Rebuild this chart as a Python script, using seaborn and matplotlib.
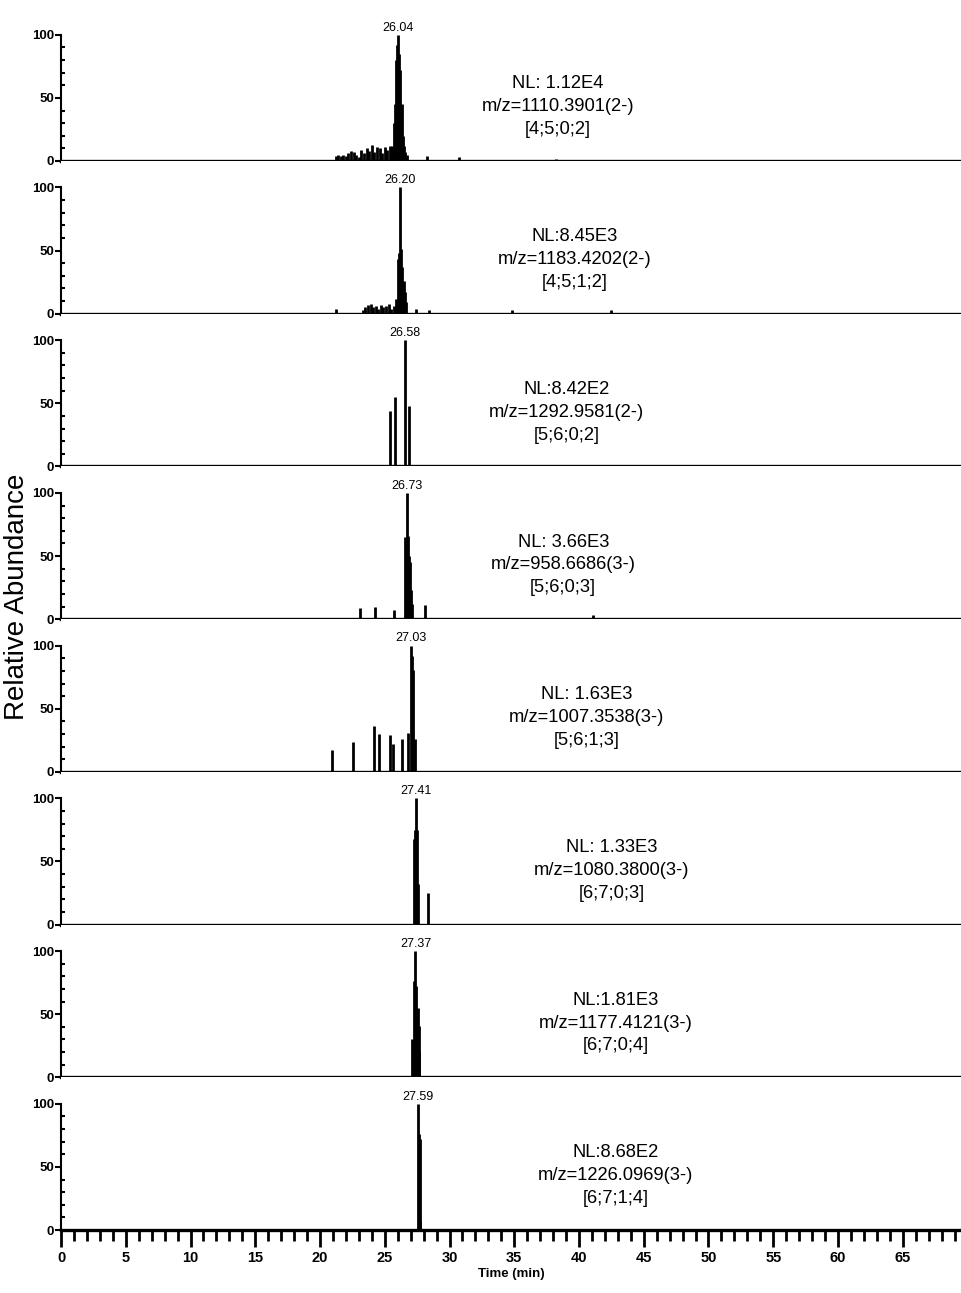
import matplotlib
matplotlib.use("Agg")
import matplotlib.pyplot as plt
import matplotlib.ticker as mticker
import seaborn as sns
import pandas as pd

# peak apex retention times printed above each trace
PEAK_LABELS = ["26.04", "26.20", "26.58", "26.73", "27.03", "27.41", "27.37", "27.59"]

# info text for each trace
NL_TEXT = ["NL: 1.12E4", "NL:8.45E3", "NL:8.42E2", "NL: 3.66E3",
           "NL: 1.63E3", "NL: 1.33E3", "NL:1.81E3", "NL:8.68E2"]
MZ_TEXT = ["m/z=1110.3901(2-)", "m/z=1183.4202(2-)", "m/z=1292.9581(2-)", "m/z=958.6686(3-)",
           "m/z=1007.3538(3-)", "m/z=1080.3800(3-)", "m/z=1177.4121(3-)", "m/z=1226.0969(3-)"]
COMP_TEXT = ["[4;5;0;2]", "[4;5;1;2]", "[5;6;0;2]", "[5;6;0;3]",
             "[5;6;1;3]", "[6;7;0;3]", "[6;7;0;4]", "[6;7;1;4]"]

# stick chromatograms (time in min, relative abundance)
t1 = [21.2, 21.4, 21.6, 21.8, 22.0, 22.2, 22.4, 22.6, 22.8, 23.0, 23.2, 23.4, 23.6, 23.8,
      24.0, 24.2, 24.4, 24.6, 24.8, 25.0, 25.2, 25.4, 25.55, 25.7, 25.8, 25.9, 25.97,
      26.04, 26.1, 26.2, 26.3, 26.4, 26.5, 26.6, 26.75, 28.3, 30.7, 38.2]
y1 = [4, 5, 4, 5, 4, 6, 8, 7, 5, 3, 9, 6, 10, 8, 13, 7, 11, 10, 6, 11, 9, 12, 12, 30, 45,
      80, 92, 100, 85, 72, 45, 20, 12, 7, 5, 4, 3, 1.5]

t2 = [21.25, 23.3, 23.5, 23.7, 23.9, 24.1, 24.3, 24.5, 24.7, 24.9, 25.1, 25.3, 25.5, 25.7,
      25.85, 26.0, 26.1, 26.2, 26.28, 26.35, 26.45, 26.55, 26.65, 27.4, 28.45, 34.8, 42.5]
y2 = [4, 3, 5, 7, 8, 5, 6, 4, 7, 5, 6, 8, 4, 6, 12, 43, 48, 100, 51, 37, 26, 17, 9, 4, 3, 3, 3]

t3 = [25.37, 25.81, 26.58, 26.84]
y3 = [44, 55, 100, 48]

t4 = [23.05, 24.26, 25.75, 26.59, 26.73, 26.8, 26.88, 26.96, 27.03, 27.1, 28.12, 41.1]
y4 = [9, 10, 7, 65, 100, 66, 50, 45, 23, 12, 11, 3]

t5 = [20.93, 22.53, 24.15, 24.53, 25.43, 25.66, 26.33, 26.82, 27.03, 27.12, 27.2, 27.3]
y5 = [17, 24, 36, 30, 29, 22, 26, 31, 100, 92, 81, 26]

t6 = [27.23, 27.31, 27.41, 27.47, 27.53, 28.31]
y6 = [68, 75, 100, 75, 32, 25]

t7 = [27.11, 27.22, 27.37, 27.45, 27.53, 27.61, 27.68]
y7 = [30, 76, 100, 72, 55, 41, 20]

t8 = [27.59, 27.65, 27.72, 27.76]
y8 = [100, 76, 72, 7]

TRACES = [(t1, y1), (t2, y2), (t3, y3), (t4, y4), (t5, y5), (t6, y6), (t7, y7), (t8, y8)]

# horizontal centre of the info block per panel (axes fraction)
TEXT_X = [0.552, 0.571, 0.562, 0.558, 0.584, 0.612, 0.616, 0.616]

sns.set_theme(style="ticks")
plt.rcParams["font.family"] = ["Liberation Sans", "DejaVu Sans"]
plt.rcParams.update({"text.color": "black", "axes.labelcolor": "black",
                     "xtick.color": "black", "ytick.color": "black",
                     "axes.edgecolor": "black"})

fig, axes = plt.subplots(8, 1, figsize=(9.61, 12.93), dpi=100, sharex=True)
fig.subplots_adjust(left=0.0635, right=1.0, top=0.9936, bottom=0.0487, hspace=0)

for i, ax in enumerate(axes):
    t, y = TRACES[i]
    df = pd.DataFrame({"time": t, "abund": y})
    ax.vlines(df["time"], 0, df["abund"], color="black", linewidth=2.0)

    ax.set_xlim(0, 69.5)
    ax.set_ylim(0, 121)
    for s in ["top", "right"]:
        ax.spines[s].set_visible(False)
    ax.spines["left"].set_bounds(0, 100)
    ax.spines["left"].set_linewidth(1.5)
    ax.spines["bottom"].set_linewidth(2.4)

    ax.yaxis.set_major_locator(mticker.FixedLocator([0, 50, 100]))
    ax.yaxis.set_minor_locator(mticker.FixedLocator([10, 20, 30, 40, 60, 70, 80, 90]))
    ax.tick_params(axis="y", which="major", direction="out", length=4, width=1.5, pad=1,
                   labelsize=9.5)
    ax.tick_params(axis="y", which="minor", direction="in", length=3, width=1.5)
    for lab in ax.get_yticklabels():
        lab.set_weight("bold")

    # apex label
    apex = df.loc[df["abund"].idxmax(), "time"]
    ax.text(apex, 101, PEAK_LABELS[i], ha="center", va="bottom", fontsize=9)

    ax.text(TEXT_X[i], 43, NL_TEXT[i] + "\n" + MZ_TEXT[i] + "\n" + COMP_TEXT[i],
            transform=ax.get_yaxis_transform(), ha="center", va="center",
            fontsize=13.2, linespacing=1.45)

    if i < 7:
        ax.tick_params(axis="x", which="both", bottom=False, labelbottom=False)

bottom = axes[-1]
bottom.xaxis.set_major_locator(mticker.MultipleLocator(5))
bottom.xaxis.set_minor_locator(mticker.MultipleLocator(1))
bottom.tick_params(axis="x", which="major", direction="out", length=12, width=2, labelsize=10.5, pad=3)
bottom.tick_params(axis="x", which="minor", direction="out", length=8, width=2)
for lab in bottom.get_xticklabels():
    lab.set_weight("bold")
bottom.set_xlabel("Time (min)", fontsize=9.5, fontweight="bold", labelpad=2)

fig.text(0.018, 1 - 597 / 1293, "Relative Abundance", rotation=90, ha="center", va="center",
         fontsize=20)

fig.savefig("out.png", dpi=100, facecolor="white")
